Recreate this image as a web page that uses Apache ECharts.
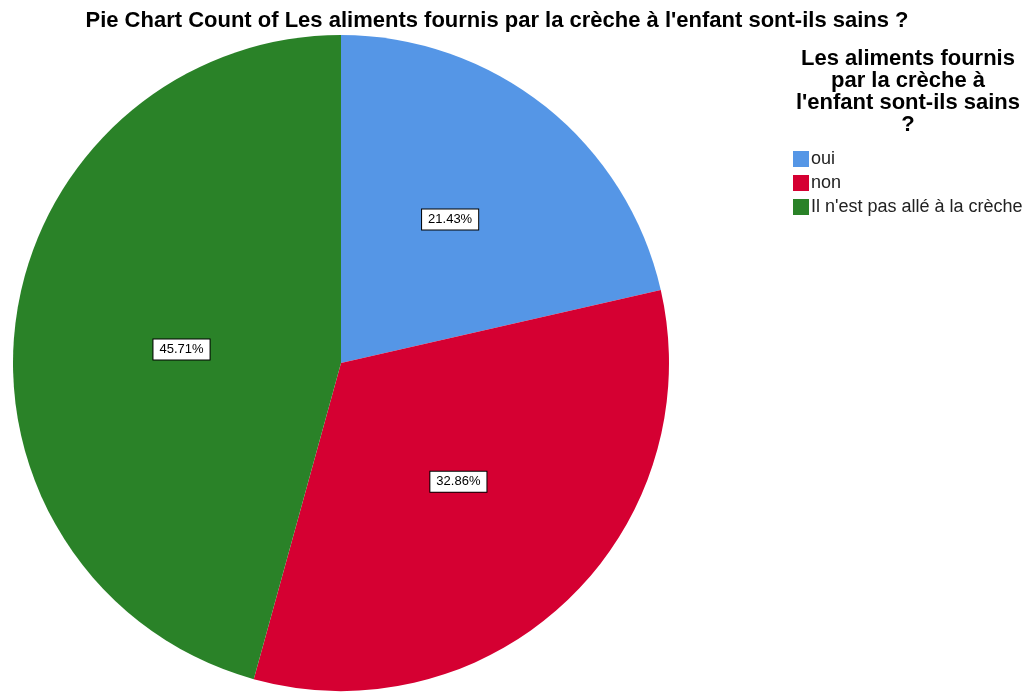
<!DOCTYPE html>
<html>
<head>
<meta charset="utf-8">
<script src="https://cdn.jsdelivr.net/npm/echarts@6/dist/echarts.min.js"></script>
<style>
  html, body { margin: 0; padding: 0; background: #fff; }
  #main { width: 1034px; height: 693px; }
</style>
</head>
<body>
<div id="main"></div>
<script>
// categories et effectifs (n = 70)
const categories = ['oui', 'non', "Il n'est pas allé à la crèche"]
const counts = [15, 23, 32]
const colors = ['#5596e6', '#d50032', '#2a8228']
// petit décalage des étiquettes comme sur l'original
const labelOffsets = [[5, -13], [2, -2], [6, 9]]

const chart = echarts.init(document.getElementById('main'))

const total = counts.reduce((a, b) => a + b, 0)

chart.setOption({
  animation: false,
  title: [
    {
      text: "Pie Chart Count of Les aliments fournis par la crèche à l'enfant sont-ils sains ?",
      left: 492,
      top: 5,
      textAlign: 'center',
      textStyle: { fontFamily: 'Liberation Sans', fontSize: 22, fontWeight: 'bold', color: '#000' }
    },
    {
      text: "Les aliments fournis\npar la crèche à\nl'enfant sont-ils sains\n?",
      left: 903,
      top: 43,
      textAlign: 'center',
      textStyle: { fontFamily: 'Liberation Sans', fontSize: 22, fontWeight: 'bold', color: '#000', lineHeight: 22 }
    }
  ],
  legend: {
    orient: 'vertical',
    left: 788,
    top: 145,
    itemWidth: 16,
    itemHeight: 16,
    itemGap: 6,
    icon: 'rect',
    selectedMode: false,
    textStyle: { fontFamily: 'Liberation Sans', fontSize: 18, color: '#222', padding: [0, 0, 0, -3] },
    data: categories
  },
  series: [
    {
      type: 'pie',
      center: [341, 363],
      radius: 328,
      startAngle: 90,
      clockwise: true,
      itemStyle: { borderWidth: 0 },
      label: {
        position: 'inside',
        formatter: p => (p.value / total * 100).toFixed(2) + '%',
        fontFamily: 'Liberation Sans',
        fontSize: 13,
        color: '#000',
        backgroundColor: '#fff',
        borderColor: '#000',
        borderWidth: 1,
        padding: [4, 6, 3, 6]
      },
      labelLine: { show: false },
      emphasis: { disabled: true },
      data: categories.map((c, i) => ({
        name: c,
        value: counts[i],
        itemStyle: { color: colors[i] },
        label: { offset: labelOffsets[i] }
      }))
    }
  ]
})
</script>
</body>
</html>
